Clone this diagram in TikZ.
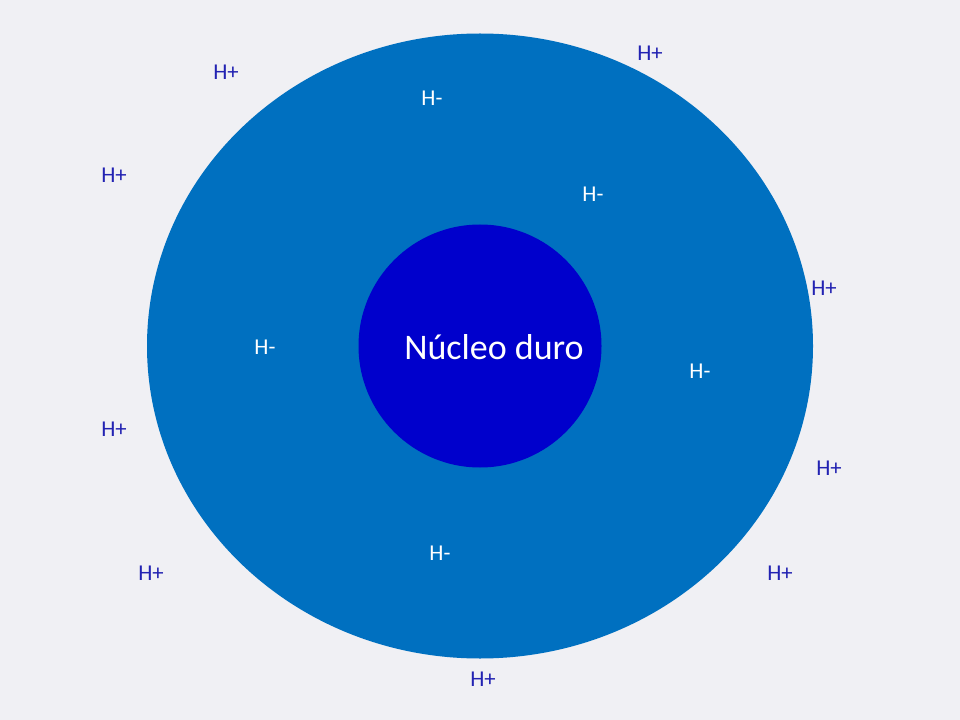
\documentclass[tikz,border=0pt]{standalone}
\usepackage{fontspec}
\setmainfont{Carlito}
\definecolor{bgGrey}{RGB}{240,240,244}
\definecolor{ringBlue}{RGB}{0,112,192}
\definecolor{coreBlue}{RGB}{0,0,204}
\definecolor{ionBlue}{RGB}{34,34,178}
\tikzset{every picture/.style={line width=0.75pt}}
\tikzset{
  hplus/.style={inner sep=0.75pt, text=ionBlue, font=\fontsize{17}{20}\selectfont},
  hminus/.style={inner sep=0.75pt, text=white, font=\fontsize{17}{20}\selectfont}
}
\begin{document}
\begin{tikzpicture}[x=0.75pt,y=0.75pt,yscale=-1,xscale=1]
%Shape: Background
\fill [bgGrey] (0,0) rectangle (960,720) ;
\useasboundingbox (0,0) rectangle (960,720) ;

%Shape: Ellipse [id:outer]
\fill [ringBlue] (480,346) ellipse (333 and 312.5) ;
%Shape: Circle [id:core]
\node (core) [circle, fill=coreBlue, minimum size=243*0.75pt, inner sep=0pt] at (480,346) {} ;

% Text Node
\node (nucleo) [inner sep=0.75pt, text=white, font=\fontsize{27}{32}\selectfont] at (494,347) {Núcleo duro};

% Text Node
\node (hm1) [hminus] at (432,98) {H-};
% Text Node
\node (hm2) [hminus] at (593,194) {H-};
% Text Node
\node (hm3) [hminus] at (265,347) {H-};
% Text Node
\node (hm4) [hminus] at (700,371) {H-};
% Text Node
\node (hm5) [hminus] at (440,553) {H-};

% Text Node
\node (hp1) [hplus] at (226,72) {H+};
% Text Node
\node (hp2) [hplus] at (650,53) {H+};
% Text Node
\node (hp3) [hplus] at (114,175) {H+};
% Text Node
\node (hp4) [hplus] at (824,288) {H+};
% Text Node
\node (hp5) [hplus] at (114,429) {H+};
% Text Node
\node (hp6) [hplus] at (829,468) {H+};
% Text Node
\node (hp7) [hplus] at (151,573) {H+};
% Text Node
\node (hp8) [hplus] at (780,573) {H+};
% Text Node
\node (hp9) [hplus] at (483,679) {H+};

\end{tikzpicture}
\end{document}
